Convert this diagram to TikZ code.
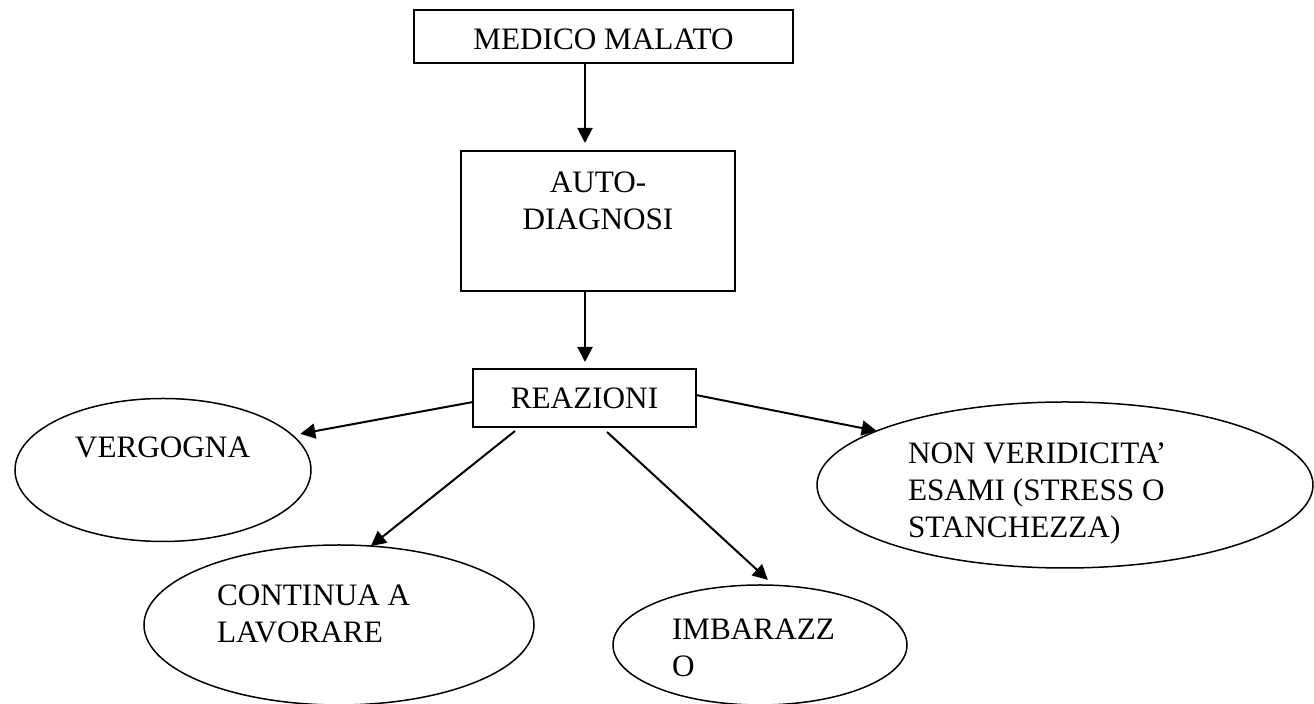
\documentclass[tikz,border=0pt]{standalone}
\usepackage{fontspec}
\setmainfont{Liberation Serif}
\usetikzlibrary{shapes.geometric,arrows.meta}

\begin{document}
\begin{tikzpicture}[x=0.5pt,y=-0.5pt]
\tikzstyle{every node}+=[inner sep=0pt, outer sep=0pt, font=\fontsize{15.6}{18.5}\selectfont]
\tikzstyle{box}=[draw=black, line width=1pt, rectangle]
\tikzstyle{oval}=[draw=black, line width=0.75pt, ellipse]
\tikzstyle{arr}=[draw=black, line width=1pt, -{Triangle[length=7.5pt,width=7.5pt]}]
\useasboundingbox (0,0) rectangle (1314,704);
\node [box, minimum width=189.5pt, minimum height=26.5pt] (medico) at (603.5,36.5) {\raisebox{-1.5pt}[\height][\depth]{MEDICO MALATO}};
\node [box, minimum width=137pt, minimum height=70pt] (auto) at (598,221) {};
\node [anchor=north, align=center] (autotxt) at (598,171.4) {AUTO-\\DIAGNOSI};
\node [box, minimum width=111.5pt, minimum height=29pt] (reaz) at (584.5,398) {REAZIONI};
\node [oval, minimum width=148pt, minimum height=71.5pt] (verg) at (163,470) {};
\node [anchor=base west] (vergtxt) at (75,458) {VERGOGNA};
\node [oval, minimum width=195pt, minimum height=80pt] (cont) at (339,625) {};
\node [anchor=north west, align=left] (conttxt) at (217,584.4) {CONTINUA A\\LAVORARE};
\node [oval, minimum width=147pt, minimum height=60pt] (imb) at (760,645) {};
\node [anchor=north west, align=left] (imbtxt) at (672,619.4) {IMBARAZZ\\O};
\node [oval, minimum width=248pt, minimum height=83pt] (nonv) at (1065,485) {};
\node [anchor=north west, align=left] (nonvtxt) at (908,442.4) {NON VERIDICITA’\\ESAMI (STRESS O\\STANCHEZZA)};
\draw [arr, shorten >=4pt] ([xshift=-9.25pt]medico.south) -- ([xshift=-6.5pt]auto.north);
\draw [arr, shorten >=3.5pt] ([xshift=-6.5pt]auto.south) -- ([xshift=0.25pt]reaz.north);
\draw [arr, shorten >=4pt] ([yshift=-2pt]reaz.west) -- (verg.15);
\draw [arr] ([xshift=-34.75pt,yshift=-2pt]reaz.south) -- (cont.68);
\draw [arr, shorten >=4pt] ([xshift=11.25pt,yshift=-2.5pt]reaz.south) -- (imb.77);
\draw [arr] ([yshift=1.5pt]reaz.east) -- (nonv.164);
\end{tikzpicture}
\end{document}
